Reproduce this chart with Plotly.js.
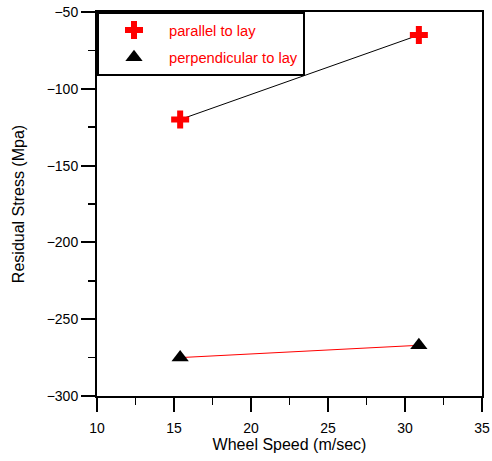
<!DOCTYPE html>
<html>
<head>
<meta charset="utf-8">
<script src="https://cdn.plot.ly/plotly-3.0.1.min.js"></script>
<style>html,body{margin:0;padding:0;background:#fff;}#chart{width:492px;height:461px;}</style>
</head>
<body>
<div id="chart"></div>
<script>
const wheelSpeed = [15.4, 30.9];
const parallelStress = [-120, -65];
const perpendicularStress = [-275, -267];
const seriesNames = ['parallel to lay', 'perpendicular to lay'];

const font = 'Liberation Sans, Arial, sans-serif';

const traces = [
  {x: wheelSpeed, y: parallelStress, mode: 'lines', line: {color: '#000', width: 1}, showlegend: false, hoverinfo: 'skip'},
  {x: wheelSpeed, y: perpendicularStress, mode: 'lines', line: {color: '#ff0000', width: 1}, showlegend: false, hoverinfo: 'skip'},
  {x: wheelSpeed, y: parallelStress, mode: 'markers', name: seriesNames[0], legendgroup: 'a',
   marker: {symbol: 'cross', size: 15, color: '#ff0000', line: {width: 0}}},
  {x: wheelSpeed, y: perpendicularStress, mode: 'markers', name: seriesNames[1], legendgroup: 'b',
   marker: {symbol: 'triangle-up', size: 15, color: '#000', line: {width: 0}}}
];

const axisCommon = {
  showgrid: false, zeroline: false, showline: true, linecolor: '#000', linewidth: 2, mirror: true,
  ticks: 'outside', ticklen: 14, tickwidth: 2, tickcolor: '#000',
  tickfont: {family: font, size: 14, color: '#000'}
};

const layout = {
  width: 492, height: 461,
  margin: {l: 97, r: 10, t: 12, b: 65},
  paper_bgcolor: '#fff', plot_bgcolor: '#fff',
  font: {family: font, color: '#000'},
  xaxis: Object.assign({}, axisCommon, {
    range: [10, 35], dtick: 5, tick0: 10, ticklabelstandoff: 4,
    minor: {dtick: 2.5, ticklen: 7, tickwidth: 1.5, ticks: 'outside', tickcolor: '#000'},
    title: {text: 'Wheel Speed (m/sec)', font: {family: font, size: 16, color: '#000'}, standoff: 0}
  }),
  yaxis: Object.assign({}, axisCommon, {
    range: [-300, -50], dtick: 50, tick0: -300,
    minor: {dtick: 25, ticklen: 7, tickwidth: 1.5, ticks: 'outside', tickcolor: '#000'},
    title: {text: 'Residual Stress (Mpa)', font: {family: font, size: 16, color: '#000'}, standoff: 18}
  }),
  legend: {
    x: 0, y: 1, xanchor: 'left', yanchor: 'top',
    bordercolor: '#000', borderwidth: 2, bgcolor: '#fff',
    font: {family: font, size: 14.7, color: '#ff0000'},
    itemwidth: 60, tracegroupgap: 5
  }
};

Plotly.newPlot('chart', traces, layout, {displayModeBar: false, staticPlot: true});
</script>
</body>
</html>
